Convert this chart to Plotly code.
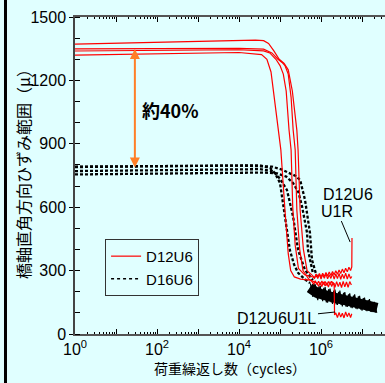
import numpy as np
import plotly.graph_objects as go

# ---------------- data (x as log10 of cycles) ----------------
r1_logx = [0, 2, 4, 4.55, 4.68, 4.78, 4.85, 4.95, 5.02, 5.12, 5.2, 5.26, 5.35, 5.5, 5.73,
           5.78, 5.82, 5.86, 5.90, 5.94, 5.98, 6.02, 6.06, 6.10, 6.14, 6.18, 6.22, 6.26, 6.30,
           6.32, 6.33, 6.36, 6.40, 6.44, 6.48, 6.52, 6.56, 6.60, 6.64, 6.68, 6.72, 6.75]
r1_val = [1320, 1325, 1332, 1322, 1300, 1240, 1130, 965, 871, 587, 380, 300, 270, 260, 255,
          248, 236, 252, 234, 250, 232, 251, 235, 249, 230, 248, 233, 250, 236,
          240, 90, 100, 78, 102, 80, 98, 76, 104, 82, 100, 78, 96]

r2_logx = [0, 2, 4, 4.6, 4.75, 4.9, 5.0, 5.08, 5.15, 5.22, 5.27, 5.31, 5.37, 5.45, 5.6, 5.8,
           5.84, 5.88, 5.92, 5.96, 6.00, 6.04, 6.08, 6.12, 6.16, 6.20, 6.24, 6.28, 6.32, 6.36,
           6.40, 6.44, 6.48, 6.52, 6.56, 6.60, 6.64, 6.68, 6.72, 6.75]
r2_val = [1339, 1342, 1345, 1340, 1330, 1300, 1270, 1230, 1150, 965, 871, 600, 420, 310, 280, 270,
          264, 280, 262, 283, 260, 282, 264, 285, 261, 280, 263, 286, 260, 284,
          262, 287, 259, 283, 262, 288, 260, 284, 263, 272]

r3_logx = [0, 2, 4, 4.6, 4.8, 4.95, 5.05, 5.12, 5.2, 5.27, 5.32, 5.37, 5.41, 5.48, 5.56, 5.7, 5.9,
           5.94, 5.98, 6.02, 6.06, 6.10, 6.14, 6.18, 6.22, 6.26, 6.30, 6.34, 6.38, 6.42, 6.46,
           6.50, 6.54, 6.58, 6.62, 6.66, 6.70, 6.74]
r3_val = [1349, 1350, 1352, 1348, 1330, 1300, 1285, 1270, 1230, 1120, 965, 871, 587, 400, 300, 260, 240,
          226, 244, 224, 246, 227, 243, 222, 247, 225, 244, 221, 248, 224, 245,
          220, 249, 223, 246, 221, 248, 232]

r4_logx = [0, 2, 4, 4.4, 4.6, 4.72, 4.85, 4.98, 5.1, 5.2, 5.3, 5.36, 5.41, 5.44, 5.49, 5.57, 5.66, 5.8,
           5.84, 5.88, 5.92, 5.96, 6.00, 6.04, 6.08, 6.12, 6.16, 6.20, 6.24, 6.28, 6.32, 6.36,
           6.40, 6.44, 6.48, 6.52, 6.56, 6.60, 6.64, 6.68, 6.72, 6.75, 6.755]
r4_val = [1372, 1380, 1390, 1391, 1388, 1375, 1340, 1300, 1280, 1250, 1150, 1050, 965, 871, 587, 400, 300, 275,
          266, 284, 268, 286, 270, 288, 272, 291, 274, 293, 277, 296, 280, 299,
          283, 303, 286, 307, 290, 311, 294, 316, 300, 318, 454]

b1_logx = [0, 2, 4, 4.5, 4.76, 4.88, 5.0, 5.12, 5.24, 5.34, 5.44, 5.6, 5.73]
b1_val = [790, 795, 800, 798, 785, 760, 714, 554, 397, 330, 289, 260, 241]
b2_logx = [0, 2, 4, 4.5, 4.83, 5.0, 5.17, 5.32, 5.44, 5.61, 5.80]
b2_val = [771, 775, 782, 780, 770, 735, 681, 554, 397, 303, 255]
b3_logx = [0, 2, 4, 4.6, 4.93, 5.15, 5.32, 5.45, 5.54, 5.66, 5.68, 5.80]
b3_val = [755, 758, 764, 764, 760, 745, 714, 670, 601, 478, 400, 289]
b4_logx = [0, 2, 4, 4.8, 5.05, 5.24, 5.38, 5.49, 5.61, 5.73, 5.78, 5.90]
b4_val = [792, 794, 797, 792, 778, 760, 748, 729, 634, 478, 350, 270]

# noisy black tail (centre line + spiky edges)
btc_logx = [5.72, 5.9, 6.2, 6.5, 7.0, 7.37]
btc_val = [218, 195, 178, 166, 142, 124]
bt1_logx = [5.74, 5.80, 5.86, 5.92, 5.98, 6.04, 6.10, 6.16, 6.22, 6.28, 6.34, 6.40, 6.46, 6.52,
            6.58, 6.64, 6.70, 6.76, 6.82, 6.88, 6.94, 7.00, 7.06, 7.12, 7.18, 7.24, 7.30, 7.36]
bt1_val = [240, 175, 235, 160, 228, 155, 222, 148, 215, 142, 210, 138, 205, 130,
           198, 128, 192, 122, 188, 118, 180, 110, 172, 108, 165, 104, 152, 100]
bt2_logx = [5.77, 5.83, 5.89, 5.95, 6.01, 6.07, 6.13, 6.19, 6.25, 6.31, 6.37, 6.43, 6.49, 6.55,
            6.61, 6.67, 6.73, 6.79, 6.85, 6.91, 6.97, 7.03, 7.09, 7.15, 7.21, 7.27, 7.33]
bt2_val = [190, 238, 170, 225, 165, 218, 150, 212, 150, 205, 140, 200, 138, 195,
           130, 188, 125, 182, 120, 178, 115, 170, 112, 160, 106, 150, 102]

x_tick_exp = [0, 1, 2, 3, 4, 5, 6, 7]
x_tick_text = ["10<sup>0</sup>", "", "10<sup>2</sup>", "", "10<sup>4</sup>", "", "10<sup>6</sup>", ""]
y_ticks = [0, 300, 600, 900, 1200, 1500]

BG = "#E0FFFF"
RED = "#FF0000"

fig = go.Figure()

def cyc(lx):
    return [10 ** v for v in lx]

fig.add_trace(go.Scatter(x=cyc(btc_logx), y=btc_val, mode="lines", showlegend=False,
                         line=dict(color="black", width=10)))
for lx, v in [(bt1_logx, bt1_val), (bt2_logx, bt2_val)]:
    fig.add_trace(go.Scatter(x=cyc(lx), y=v, mode="lines", showlegend=False,
                             line=dict(color="black", width=1.1)))

for lx, v in [(b1_logx, b1_val), (b2_logx, b2_val), (b3_logx, b3_val), (b4_logx, b4_val)]:
    fig.add_trace(go.Scatter(x=cyc(lx), y=v, mode="lines", showlegend=False,
                             line=dict(color="black", width=2.3, dash="3px,2px")))

for lx, v in [(r1_logx, r1_val), (r2_logx, r2_val), (r3_logx, r3_val), (r4_logx, r4_val)]:
    fig.add_trace(go.Scatter(x=cyc(lx), y=v, mode="lines", showlegend=False,
                             line=dict(color=RED, width=1.2)))

fig.add_trace(go.Scatter(x=[None], y=[None], mode="lines", name="D12U6",
                         line=dict(color=RED, width=1.2)))
fig.add_trace(go.Scatter(x=[None], y=[None], mode="lines", name="D16U6",
                         line=dict(color="black", width=1.5, dash="dot")))

minor_vals = [m * 10 ** d for d in range(0, 8) for m in range(2, 10)]

fig.update_layout(
    width=385, height=383,
    margin=dict(l=75, r=0, t=17, b=49),
    paper_bgcolor=BG, plot_bgcolor=BG,
    font=dict(family="Liberation Sans, Arial", color="black", size=16),
    xaxis=dict(
        type="log", range=[0, 7.56],
        tickmode="array", tickvals=[10 ** e for e in x_tick_exp], ticktext=x_tick_text,
        ticks="inside", ticklen=5, tickcolor="black", tickwidth=1,
        minor=dict(tickmode="array", tickvals=minor_vals, ticks="inside", ticklen=2.5,
                   tickcolor="black", tickwidth=1),
        showline=True, linecolor="#555", linewidth=1.5, mirror="ticks",
        showgrid=False, zeroline=False,
        tickfont=dict(size=16),
        title=dict(text="荷重繰返し数（cycles）", standoff=4,
                   font=dict(family="Noto Sans CJK JP", size=14)),
    ),
    yaxis=dict(
        range=[0, 1500], tickmode="array", tickvals=y_ticks,
        ticks="outside", ticklen=4, tickcolor="black", tickwidth=1,
        minor=dict(dtick=100, ticks="inside", ticklen=5, tickcolor="black", tickwidth=1),
        showline=True, linecolor="#444", linewidth=1.5,
        showgrid=False, zeroline=False,
        tickfont=dict(size=16),
    ),
    legend=dict(x=0.097, y=0.30, xanchor="left", yanchor="top",
                bordercolor="#333", borderwidth=1, bgcolor=BG,
                font=dict(size=15), tracegroupgap=0),
    showlegend=True,
)

# y-axis title (rotated)
fig.add_annotation(x=-0.168, y=0.517, xref="paper", yref="paper",
                   xanchor="center", yanchor="middle",
                   text="橋軸直角方向ひずみ範囲（μ）", textangle=-90, showarrow=False,
                   font=dict(family="Noto Sans CJK JP", size=16))

# double-headed orange arrow
fig.add_annotation(x=1.46, y=1349, ax=1.46, ay=781, axref="x", ayref="y",
                   xref="x", yref="y", text="", showarrow=True,
                   arrowhead=2, startarrowhead=2, arrowside="end+start",
                   arrowsize=1, startarrowsize=1, arrowwidth=2, arrowcolor="#FF7F27")
fig.add_annotation(x=2.317, y=1060, xref="x", yref="y", text="<b>約40%</b>",
                   showarrow=False, font=dict(family="Noto Sans CJK JP", size=18, color="black"))

# labels with leader lines
fig.add_annotation(x=6.65, y=662, xref="x", yref="y", text="D12U6", showarrow=False,
                   font=dict(size=16))
fig.add_annotation(x=6.71, y=435, xref="x", yref="y", text="U1R", showarrow=True,
                   arrowhead=0, arrowwidth=1, arrowcolor="black", ax=-13, ay=-31,
                   font=dict(size=16))
fig.add_annotation(x=6.34, y=104, xref="x", yref="y", text="D12U6U1L", showarrow=True,
                   arrowhead=0, arrowwidth=1, arrowcolor="black", ax=-58, ay=6,
                   font=dict(size=16))

# left frame border
fig.add_shape(type="line", xref="paper", yref="paper", x0=-0.2242, x1=-0.2242,
              y0=-0.2, y1=1.1, line=dict(color="black", width=3))

fig.write_html("out.html")
